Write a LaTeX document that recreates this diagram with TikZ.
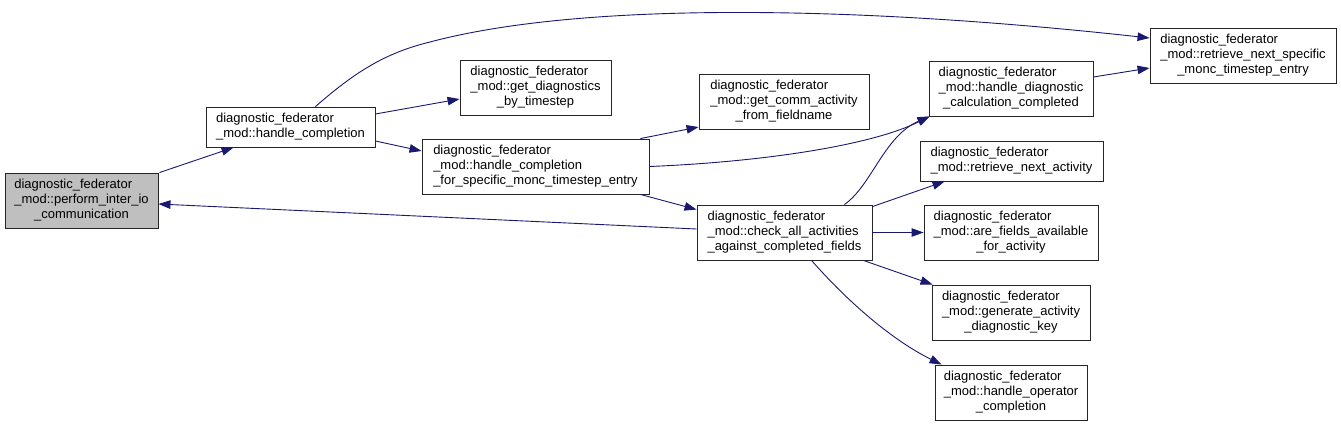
\documentclass[tikz,border=0pt]{standalone}
\usepackage{fontspec}
\setmainfont{Liberation Sans}
\usetikzlibrary{arrows.meta}
\definecolor{edgeblue}{HTML}{191970}
\definecolor{rootgray}{HTML}{BFBFBF}
\newcommand{\fnlabel}[2]{\begin{tabular}{@{}l@{}}#1\\\multicolumn{1}{@{}c@{}}{#2}\end{tabular}}
\newcommand{\fnlabelthree}[3]{\begin{tabular}{@{}l@{}}#1\\#2\\\multicolumn{1}{@{}c@{}}{#3}\end{tabular}}
\begin{document}
\begin{tikzpicture}[x=1pt,y=-1pt,
  fnbox/.style={draw=black!85,line width=0.9pt,fill=white,inner sep=0pt,
    font=\fontsize{13}{14.6}\selectfont},
  rootbox/.style={fnbox,fill=rootgray},
  call/.style={draw=edgeblue,line width=0.9pt,
    -{Triangle[length=12pt,width=8.5pt,fill=edgeblue]}}]
\useasboundingbox (0,0) rectangle (1341,426);

\node[rootbox,minimum width=153pt,minimum height=55pt] (perform) at (81.5,200.5)
  {\fnlabelthree{diagnostic\_federator}{\_mod::perform\_inter\_io}{\_communication}};
\node[fnbox,minimum width=169pt,minimum height=40pt] (hc) at (290.5,127)
  {\fnlabel{diagnostic\_federator}{\_mod::handle\_completion}};
\node[fnbox,minimum width=151pt,minimum height=55pt] (gd) at (535.5,87.5)
  {\fnlabelthree{diagnostic\_federator}{\_mod::get\_diagnostics}{\_by\_timestep}};
\node[fnbox,minimum width=227pt,minimum height=55pt] (hcs) at (535.5,166.5)
  {\fnlabelthree{diagnostic\_federator}{\_mod::handle\_completion}{\_for\_specific\_monc\_timestep\_entry}};
\node[fnbox,minimum width=170pt,minimum height=55pt] (gc) at (784,101.5)
  {\fnlabelthree{diagnostic\_federator}{\_mod::get\_comm\_activity}{\_from\_fieldname}};
\node[fnbox,minimum width=175pt,minimum height=55pt] (ca) at (784.5,232.5)
  {\fnlabelthree{diagnostic\_federator}{\_mod::check\_all\_activities}{\_against\_completed\_fields}};
\node[fnbox,minimum width=164pt,minimum height=55pt] (hd) at (1011,88.5)
  {\fnlabelthree{diagnostic\_federator}{\_mod::handle\_diagnostic}{\_calculation\_completed}};
\node[fnbox,minimum width=186pt,minimum height=55pt] (rns) at (1243,55.5)
  {\fnlabelthree{diagnostic\_federator}{\_mod::retrieve\_next\_specific}{\_monc\_timestep\_entry}};
\node[fnbox,minimum width=183pt,minimum height=40pt] (rna) at (1011.5,161)
  {\fnlabel{diagnostic\_federator}{\_mod::retrieve\_next\_activity}};
\node[fnbox,minimum width=174pt,minimum height=55pt] (af) at (1011,232.5)
  {\fnlabelthree{diagnostic\_federator}{\_mod::are\_fields\_available}{\_for\_activity}};
\node[fnbox,minimum width=158pt,minimum height=55pt] (ga) at (1011,312.5)
  {\fnlabelthree{diagnostic\_federator}{\_mod::generate\_activity}{\_diagnostic\_key}};
\node[fnbox,minimum width=152pt,minimum height=55pt] (ho) at (1011,392.5)
  {\fnlabelthree{diagnostic\_federator}{\_mod::handle\_operator}{\_completion}};

\coordinate (topbend) at (430,42);

\draw[call] ([xshift=1pt]perform.north east) -- ([xshift=28pt]hc.south west);
\draw[call] ([yshift=13pt]hc.east) -- ([yshift=-11.5pt]gd.west);
\draw[call] ([yshift=-14pt]hc.east) -- ([yshift=15.5pt]hcs.west);
\draw[call] ([xshift=25pt]hc.north) .. controls (355,72) and (385,53) .. (topbend)
  .. controls (580,2) and (850,5) .. ([yshift=17.5pt]rns.west);
\draw[call] ([xshift=-9pt]hcs.north east) -- ([yshift=-25.5pt]gc.west);
\draw[call] (hcs.east) .. controls (760,162) and (870,146) .. ([xshift=1pt]hd.south west);
\draw[call] ([xshift=-9pt]hcs.south east) -- ([yshift=-5pt]ca.north west);
\draw[call] ([yshift=3.5pt]ca.west) -- ([yshift=-3.5pt]perform.east);
\draw[call] ([xshift=-28pt]ca.north east) .. controls (872,185) and (884,136) .. ([xshift=1pt]hd.south west);
\draw[call] ([yshift=-2pt]ca.north east) -- ([xshift=25pt]rna.south west);
\draw[call] (ca.east) -- (af.west);
\draw[call] ([xshift=-9pt]ca.south east) -- ([xshift=1pt]ga.north west);
\draw[call] ([xshift=115pt]ca.south west) .. controls (848,302) and (892,340) .. ([xshift=7pt]ho.north west);
\draw[call] ([yshift=11.5pt]hd.east) -- ([yshift=-12.5pt]rns.west);
\end{tikzpicture}
\end{document}
